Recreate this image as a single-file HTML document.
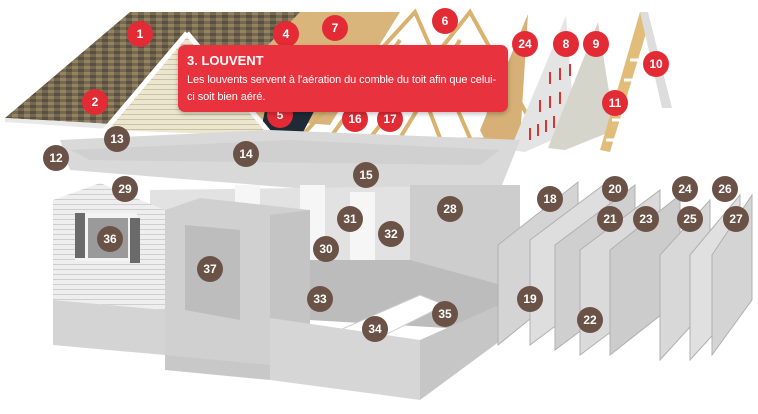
<!DOCTYPE html>
<html><head><meta charset="utf-8"><style>
html,body{margin:0;padding:0;background:#fff;width:758px;height:414px;overflow:hidden;font-family:"Liberation Sans",sans-serif}
svg{position:absolute;left:0;top:0}
.tip{position:absolute;left:178px;top:45px;width:330px;height:67px;background:#e8323d;border-radius:7px;color:#fff;box-shadow:0 2px 5px rgba(0,0,0,.25)}
.tip b{position:absolute;left:9px;top:8px;font-size:13px;font-family:"Liberation Sans Narrow","Liberation Sans",sans-serif}
.tip p{position:absolute;left:9px;top:27px;margin:0;font-size:11px;letter-spacing:-0.1px;line-height:17px;width:318px;white-space:nowrap;font-family:"Liberation Sans Narrow","Liberation Sans",sans-serif}
</style></head><body>
<svg width="758" height="414" viewBox="0 0 758 414">
<defs>
<pattern id="sh" width="12" height="6" patternUnits="userSpaceOnUse"><rect width="12" height="6" fill="#75684f"/><rect x="0" y="0" width="6" height="3" fill="#94835f"/><rect x="6" y="3" width="6" height="3" fill="#585044"/></pattern>
<pattern id="sd" width="6" height="5" patternUnits="userSpaceOnUse"><rect width="6" height="5" fill="#ece6cf"/><rect y="4" width="6" height="1" fill="#c9c2a8"/></pattern>
<pattern id="sd2" width="6" height="5" patternUnits="userSpaceOnUse"><rect width="6" height="5" fill="#eeeeee"/><rect y="4" width="6" height="1" fill="#cfcfcf"/></pattern>
</defs>
<polygon points="5,118 130,12 312,12 200,115 130,125" fill="url(#sh)"/>
<polygon points="5,118 130,125 125,130 5,122" fill="#e8e8e8"/>
<polygon points="300,12 400,12 330,125 200,115" fill="#d9b57c"/>
<g stroke="#d8b26e" stroke-width="4" fill="none">
<path d="M300,138 L415,12 L470,138 M370,138 L470,12 L540,138 M280,138 L520,140 M330,138 L400,40 M440,138 L410,60 M400,138 L460,40 M500,138 L470,70"/>
</g>
<polygon points="265,110 320,100 300,138 260,135" fill="#1e2a35"/>
<polygon points="187,33 105,130 272,136" fill="url(#sd)"/>
<path d="M187,33 L105,130 M187,33 L272,136" stroke="#fff" stroke-width="5" fill="none"/>
<polygon points="480,130 528,14 520,140 490,150" fill="#d6b077"/>
<polygon points="510,150 566,16 575,130 525,152" fill="#e4e4e4"/>
<g stroke="#d33" stroke-width="2"><path d="M530,140 v-12 M538,136 v-12 M546,132 v-12 M554,128 v-12 M540,112 v-12 M550,108 v-12 M560,104 v-12 M550,84 v-12 M560,80 v-12 M570,76 v-12"/></g>
<polygon points="548,148 598,22 615,130 565,150" fill="#d5d5cc"/>
<polygon points="600,150 640,12 650,20 610,152" fill="#e2bd7a"/>
<g stroke="#fff" stroke-width="3"><path d="M606,140h12M612,120h12M618,100h12M624,80h12M630,60h10"/></g>
<polygon points="640,12 648,12 672,108 662,108" fill="#ddd"/>
<polygon points="60,140 270,130 520,140 500,190 320,190 70,170" fill="#d9d9d9"/>
<polygon points="70,150 290,140 500,150 480,165 90,160" fill="#c9c9c9" opacity=".6"/>
<polygon points="150,190 520,185 520,300 150,300" fill="#e2e2e2"/>
<polygon points="410,185 520,185 520,300 410,300" fill="#cdcdcd"/>
<rect x="300" y="185" width="25" height="90" fill="#f6f6f6"/>
<rect x="350" y="192" width="25" height="90" fill="#f6f6f6"/>
<rect x="235" y="185" width="25" height="30" fill="#f6f6f6"/>
<polygon points="53,200 100,183 165,210 165,310 53,300" fill="url(#sd2)"/>
<rect x="75" y="213" width="62" height="48" fill="#f4f4f4"/>
<rect x="75" y="213" width="10" height="45" fill="#6a6a6a"/><rect x="130" y="218" width="10" height="45" fill="#6a6a6a"/>
<rect x="88" y="218" width="40" height="40" fill="#9a9a9a"/>
<polygon points="165,210 200,198 310,210 310,380 262,375 165,360" fill="#d0d0d0"/>
<polygon points="185,225 240,230 240,320 185,310" fill="#bdbdbd"/>
<polygon points="270,215 310,210 310,375 270,370" fill="#c4c4c4"/>
<polygon points="310,260 410,260 520,290 480,330 310,320" fill="#bcbcbc"/>
<polygon points="340,330 420,295 445,305 375,340" fill="#fff" stroke="#ccc"/>
<polygon points="53,300 165,310 165,355 53,345" fill="#d4d4d4"/>
<polygon points="165,355 270,365 270,380 165,370" fill="#c8c8c8"/>
<polygon points="270,318 420,340 420,400 270,380" fill="#d6d6d6"/>
<polygon points="420,340 510,300 515,330 420,400" fill="#c6c6c6"/>
<g stroke="#b0b0b0" stroke-width="1">
<polygon points="498,245 578,182 578,280 498,345" fill="#d4d4d4"/>
<polygon points="530,240 610,180 610,285 530,345" fill="#dedede"/>
<polygon points="555,245 635,185 635,290 555,350" fill="#cfcfcf"/>
<polygon points="580,250 660,190 660,295 580,355" fill="#dadada"/>
<polygon points="610,250 680,195 680,300 610,355" fill="#cccccc"/>
<polygon points="660,255 710,200 710,305 660,360" fill="#d8d8d8"/>
<polygon points="690,255 740,195 740,305 690,360" fill="#e0e0e0"/>
<polygon points="712,255 752,195 752,300 712,355" fill="#d4d4d4"/>
</g>
<g font-family="Liberation Sans Narrow,Liberation Sans,sans-serif" font-weight="bold" font-size="12" fill="#fff" text-anchor="middle">
<g fill="#e32b36">
<circle cx="140" cy="34" r="13"/><circle cx="95" cy="102" r="13"/><circle cx="286" cy="34" r="13"/><circle cx="335" cy="28" r="13"/><circle cx="445" cy="21" r="13"/><circle cx="525" cy="44" r="13"/><circle cx="566" cy="44" r="13"/><circle cx="596" cy="44" r="13"/><circle cx="656" cy="64" r="13"/><circle cx="615" cy="103" r="13"/><circle cx="280" cy="115" r="13"/><circle cx="355" cy="119" r="13"/><circle cx="390" cy="119" r="13"/>
</g>
<g fill="#6b5247">
<circle cx="117" cy="139" r="13"/><circle cx="56" cy="158" r="13"/><circle cx="246" cy="154" r="13"/><circle cx="366" cy="175" r="13"/><circle cx="125" cy="189" r="13"/><circle cx="110" cy="239" r="13"/><circle cx="210" cy="269" r="13"/><circle cx="350" cy="219" r="13"/><circle cx="326" cy="249" r="13"/><circle cx="391" cy="234" r="13"/><circle cx="450" cy="209" r="13"/><circle cx="320" cy="299" r="13"/><circle cx="375" cy="329" r="13"/><circle cx="445" cy="314" r="13"/><circle cx="550" cy="199" r="13"/><circle cx="615" cy="189" r="13"/><circle cx="610" cy="219" r="13"/><circle cx="646" cy="219" r="13"/><circle cx="685" cy="189" r="13"/><circle cx="690" cy="219" r="13"/><circle cx="725" cy="189" r="13"/><circle cx="736" cy="219" r="13"/><circle cx="530" cy="299" r="13"/><circle cx="590" cy="320" r="13"/>
</g>
<text x="140" y="38">1</text><text x="95" y="106">2</text><text x="286" y="38">4</text><text x="335" y="32">7</text><text x="445" y="25">6</text><text x="525" y="48">24</text><text x="566" y="48">8</text><text x="596" y="48">9</text><text x="656" y="68">10</text><text x="615" y="107">11</text><text x="280" y="119">5</text><text x="355" y="123">16</text><text x="390" y="123">17</text>
<text x="117" y="143">13</text><text x="56" y="162">12</text><text x="246" y="158">14</text><text x="366" y="179">15</text><text x="125" y="193">29</text><text x="110" y="243">36</text><text x="210" y="273">37</text><text x="350" y="223">31</text><text x="326" y="253">30</text><text x="391" y="238">32</text><text x="450" y="213">28</text><text x="320" y="303">33</text><text x="375" y="333">34</text><text x="445" y="318">35</text><text x="550" y="203">18</text><text x="615" y="193">20</text><text x="610" y="223">21</text><text x="646" y="223">23</text><text x="685" y="193">24</text><text x="690" y="223">25</text><text x="725" y="193">26</text><text x="736" y="223">27</text><text x="530" y="303">19</text><text x="590" y="324">22</text>
</g>
</svg>
<div class="tip"><b>3. LOUVENT</b><p>Les louvents servent à l'aération du comble du toit afin que celui-<br>ci soit bien aéré.</p></div>
</body></html>
